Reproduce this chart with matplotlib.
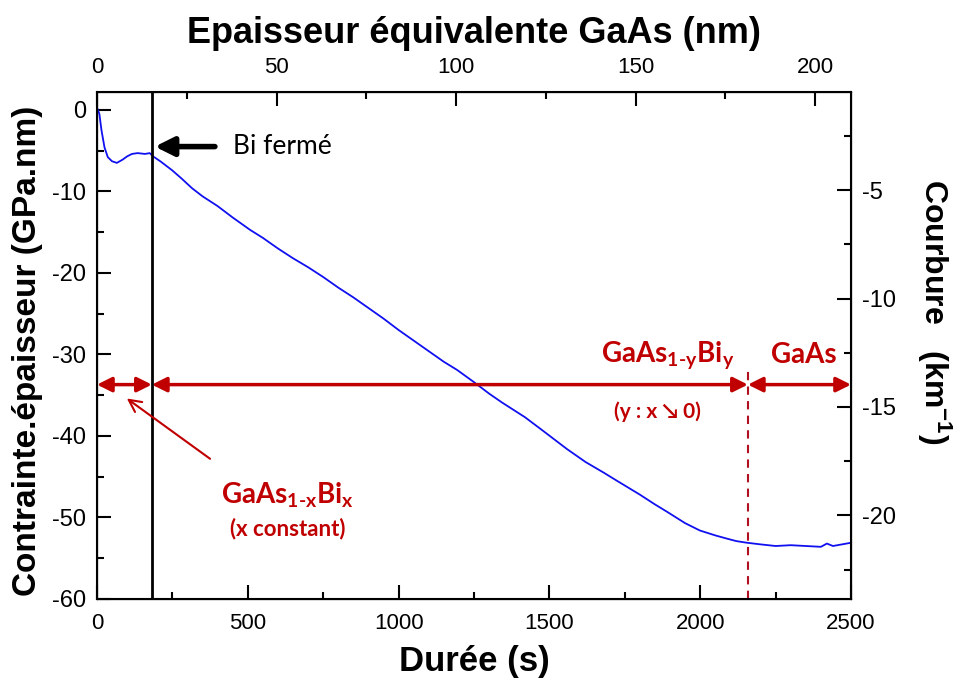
import matplotlib
matplotlib.use('Agg')
import matplotlib.pyplot as plt
from matplotlib.ticker import MultipleLocator

# Courbe : durée (s) / contrainte.épaisseur (GPa.nm)
duree = [0, 8, 15, 25, 36, 50, 66, 85, 100, 116, 135, 159, 175, 186, 210, 249, 280,
         315, 350, 400, 450, 507, 550, 600, 650, 700, 750, 800, 850, 900, 950, 1000,
         1050, 1100, 1150, 1194, 1250, 1300, 1343, 1419, 1480, 1558, 1620, 1680, 1724,
         1800, 1850, 1890, 1950, 1999, 2050, 2089, 2120, 2155, 2200, 2250, 2300, 2350,
         2400, 2420, 2440, 2500]
contrainte = [0.3, -0.5, -2.5, -4.6, -5.8, -6.3, -6.5, -6.1, -5.7, -5.4, -5.3, -5.4,
              -5.3, -5.7, -6.3, -7.4, -8.4, -9.6, -10.6, -11.8, -13.2, -14.7, -15.7,
              -17.0, -18.2, -19.3, -20.5, -21.8, -23.0, -24.3, -25.6, -27.0, -28.3,
              -29.6, -30.9, -31.9, -33.4, -34.8, -35.9, -37.7, -39.4, -41.6, -43.2,
              -44.5, -45.5, -47.2, -48.4, -49.3, -50.7, -51.6, -52.2, -52.6, -52.9,
              -53.1, -53.3, -53.5, -53.4, -53.5, -53.6, -53.2, -53.5, -53.1]

# Repères
t_bi_ferme = 182
t_fin_bix = 2158
t_max = 2500
ep_max = 210
y_fleches = -33.7

rouge = '#C00000'

plt.rcParams['axes.unicode_minus'] = False
plt.rcParams['mathtext.fontset'] = 'custom'
plt.rcParams['mathtext.rm'] = 'Lato:bold'
plt.rcParams['mathtext.it'] = 'Lato:bold'
plt.rcParams['mathtext.bf'] = 'Lato:bold'

fig = plt.figure(figsize=(9.6, 6.9), dpi=100)
ax = fig.add_axes([0.101, 0.1319, 0.7855, 0.7348])

ax.plot(duree, contrainte, color='#1010F0', lw=1.3)
ax.set_xlim(0, t_max)
ax.set_ylim(-60, 2.2)

ax.axvline(t_bi_ferme, color='black', lw=2)

# axes et ticks
for a in ['left', 'bottom', 'top', 'right']:
    ax.spines[a].set_linewidth(1.5)
ax.xaxis.set_major_locator(MultipleLocator(500))
ax.xaxis.set_minor_locator(MultipleLocator(250))
ax.yaxis.set_major_locator(MultipleLocator(10))
ax.yaxis.set_minor_locator(MultipleLocator(5))
ax.tick_params(which='both', direction='in', width=1.5)
ax.tick_params(which='major', length=10)
ax.tick_params(which='minor', length=5)
ax.tick_params(axis='x', labelsize=16, pad=10)
ax.tick_params(axis='y', labelsize=17, pad=8)
for lab in ax.get_xticklabels() + ax.get_yticklabels():
    lab.set_fontfamily('Liberation Sans')

ax.set_xlabel('Durée (s)', fontsize=25, fontweight='bold',
              fontfamily='Liberation Sans', labelpad=8)
ax.set_ylabel('Contrainte.épaisseur (GPa.nm)', fontsize=24, fontweight='bold',
              fontfamily='Liberation Sans', va='center')
ax.yaxis.set_label_coords(-0.092, 0.49)

# axe du haut : épaisseur équivalente
ax_top = ax.twiny()
ax_top.set_xlim(0, ep_max)
ax_top.xaxis.set_major_locator(MultipleLocator(50))
ax_top.xaxis.set_minor_locator(MultipleLocator(25))
ax_top.tick_params(which='both', direction='in', width=1.5)
ax_top.tick_params(which='major', length=10)
ax_top.tick_params(which='minor', length=5)
ax_top.tick_params(axis='x', labelsize=16, pad=10)
for lab in ax_top.get_xticklabels():
    lab.set_fontfamily('Liberation Sans')
ax_top.set_xlabel('Epaisseur équivalente GaAs (nm)', fontsize=26, fontweight='bold',
                  fontfamily='Liberation Sans', labelpad=10)

# axe de droite : courbure
ax_r = ax.twinx()
ax_r.set_ylim(-23.85, -0.48)
ax_r.yaxis.set_major_locator(MultipleLocator(5))
ax_r.yaxis.set_minor_locator(MultipleLocator(2.5))
ax_r.tick_params(which='both', direction='in', width=1.5)
ax_r.tick_params(which='major', length=10)
ax_r.tick_params(which='minor', length=5)
ax_r.tick_params(axis='y', labelsize=17, pad=8)
for lab in ax_r.get_yticklabels():
    lab.set_fontfamily('Liberation Sans')
ax_r.set_ylabel('Courbure   (km$^{\\mathregular{-1}}$)', fontsize=23, fontweight='bold',
                fontfamily='Liberation Sans', rotation=-90, va='center')
ax_r.yaxis.set_label_coords(1.11, 0.566)

# flèches rouges des couches
for x0, x1 in [(0, t_bi_ferme), (t_bi_ferme, t_fin_bix), (t_fin_bix, t_max)]:
    ax.annotate('', xy=(x1, y_fleches), xytext=(x0, y_fleches),
                arrowprops=dict(arrowstyle='<|-|>', color=rouge, lw=2.5,
                                mutation_scale=22, shrinkA=0, shrinkB=0))

ax.plot([t_fin_bix, t_fin_bix], [-60, -31.9], color='#B01020', lw=1.5, ls=(0, (4, 3)))

# flèche Bi fermé
ax.annotate('', xy=(192, -4.5), xytext=(391, -4.5),
            arrowprops=dict(arrowstyle='-|>', color='black', lw=4,
                            mutation_scale=28, shrinkA=0, shrinkB=0))
ax.text(451, -4.5, 'Bi fermé', fontsize=19, fontfamily='Lato', va='center', ha='left')

# flèche fine vers GaAs1-xBix
ax.annotate('', xy=(99, -35.4), xytext=(375, -42.8),
            arrowprops=dict(arrowstyle='->', color=rouge, lw=1.5,
                            mutation_scale=22, shrinkA=0, shrinkB=0))

ax.text(633, -47.3, r'GaAs$_{1\text{-}x}$Bi$_{x}$', color=rouge, fontsize=20,
        fontfamily='Lato', fontweight='bold', ha='center', va='center')
ax.text(633, -51.3, '(x constant)', color=rouge, fontsize=16,
        fontfamily='Lato', fontweight='bold', ha='center', va='center')
ax.text(1893, -30.1, r'GaAs$_{1\text{-}y}$Bi$_{y}$', color=rouge, fontsize=20,
        fontfamily='Lato', fontweight='bold', ha='center', va='center')
ax.text(1857, -37.0, '(y : x ↘ 0)', color=rouge, fontsize=15,
        fontfamily=['Lato', 'DejaVu Sans'], fontweight='bold', ha='center', va='center')
ax.text(2344, -30.1, 'GaAs', color=rouge, fontsize=20,
        fontfamily='Lato', fontweight='bold', ha='center', va='center')

plt.savefig('out.png', dpi=100)
